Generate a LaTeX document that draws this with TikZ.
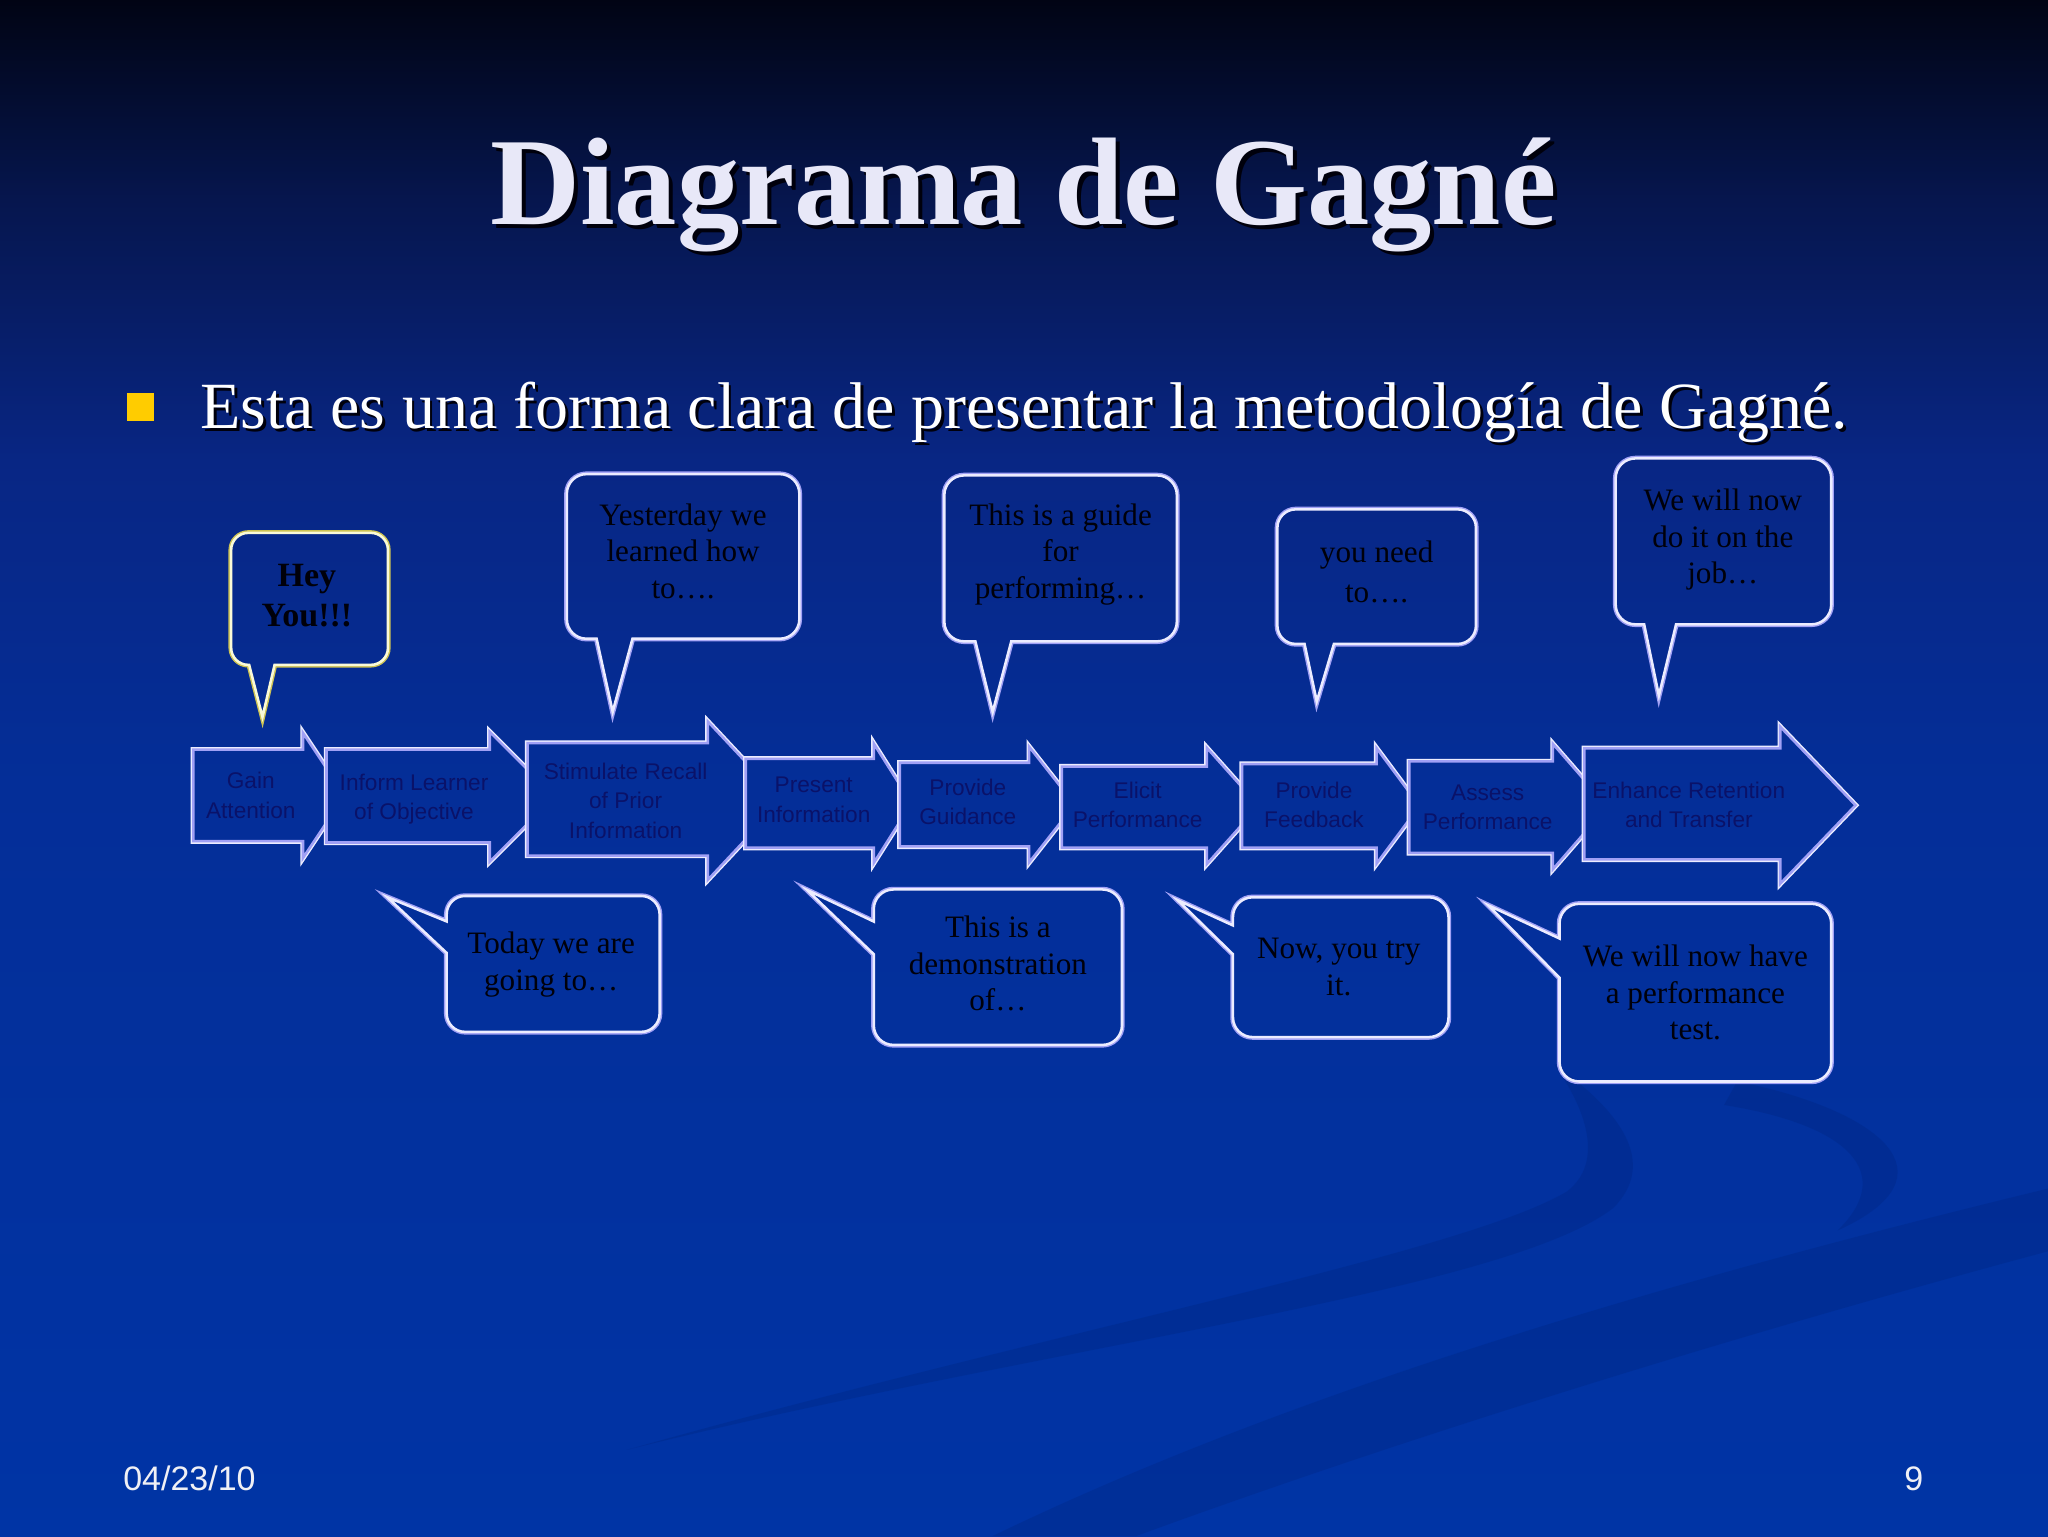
\documentclass[tikz,border=0pt]{standalone}
\usepackage{fontspec}
\setmainfont{Liberation Serif}
\newfontfamily\sansf{Liberation Sans}
\definecolor{bgA}{RGB}{1,4,20}
\definecolor{bgB}{RGB}{6,22,78}
\definecolor{bgC}{RGB}{8,38,132}
\definecolor{bgD}{RGB}{4,46,152}
\definecolor{bgE}{RGB}{0,52,165}
\definecolor{swc}{RGB}{0,30,110}
\definecolor{titlec}{RGB}{232,232,248}
\definecolor{shadc}{RGB}{0,0,12}
\definecolor{bullc}{RGB}{255,204,0}
\definecolor{lav}{RGB}{160,160,245}
\definecolor{wht}{RGB}{236,236,255}
\definecolor{yel}{RGB}{205,195,85}
\definecolor{heyin}{RGB}{250,250,215}
\definecolor{arrtext}{RGB}{10,18,105}
\definecolor{baltext}{RGB}{0,0,10}
\definecolor{footc}{RGB}{240,240,245}
\pgfdeclareverticalshading{bgshade}{100bp}{color(0bp)=(bgE); color(25bp)=(bgE); color(49.5bp)=(bgD); color(60bp)=(bgC); color(68.5bp)=(bgB); color(75bp)=(bgA); color(100bp)=(bgA)}

\newcommand\tl[1]{\begin{tabular}[t]{@{}c@{}}#1\end{tabular}}
% outer colour, inner colour, path
\newcommand\dbl[3]{%
  \draw[#1,line width=1.0pt] #3;
  \begin{scope}\clip #3; \draw[#2,line width=1.8pt] #3;\end{scope}}
% balloon, tail down: x1 y1 x2 y2 r ta tb tipx tipy
\newcommand\bup[9]{(#1+#5,#2) -- (#3-#5,#2) .. controls (#3-0.45*#5,#2) and (#3,#2+0.45*#5) .. (#3,#2+#5) -- (#3,#4-#5) .. controls (#3,#4-0.45*#5) and (#3-0.45*#5,#4) .. (#3-#5,#4) -- (#7,#4) -- (#8,#9) -- (#6,#4) -- (#1+#5,#4) .. controls (#1+0.45*#5,#4) and (#1,#4-0.45*#5) .. (#1,#4-#5) -- (#1,#2+#5) .. controls (#1,#2+0.45*#5) and (#1+0.45*#5,#2) .. (#1+#5,#2) -- cycle}
% balloon, tail left: x1 y1 x2 y2 r ya yb tipx tipy
\newcommand\bleft[9]{(#1+#5,#2) -- (#3-#5,#2) .. controls (#3-0.45*#5,#2) and (#3,#2+0.45*#5) .. (#3,#2+#5) -- (#3,#4-#5) .. controls (#3,#4-0.45*#5) and (#3-0.45*#5,#4) .. (#3-#5,#4) -- (#1+#5,#4) .. controls (#1+0.45*#5,#4) and (#1,#4-0.45*#5) .. (#1,#4-#5) -- (#1,#7) -- (#8,#9) -- (#1,#6) -- (#1,#2+#5) .. controls (#1,#2+0.45*#5) and (#1+0.45*#5,#2) .. (#1+#5,#2) -- cycle}
% block arrow: L T Bo B HT HB tip
\newcommand\arr[7]{(#1,#2) -- (#4,#2) -- (#4,#5) -- (#7,{(#5+#6)/2}) -- (#4,#6) -- (#4,#3) -- (#1,#3) -- cycle}

\tikzset{
  titletext/.style={inner sep=0pt, anchor=base, font=\fontsize{44}{50}\selectfont\bfseries},
  bullettext/.style={inner sep=0pt, anchor=base west, font=\fontsize{23.3}{28}\selectfont},
  baltxt/.style={inner sep=0pt, anchor=base, text=baltext, font=\fontsize{11}{12.9}\selectfont},
  heytxt/.style={inner sep=0pt, anchor=base, text=baltext, font=\fontsize{12}{14.2}\selectfont\bfseries},
  arrtxt/.style={inner sep=0pt, anchor=base, text=arrtext, font=\sansf\fontsize{8}{10.3}\selectfont},
  foottxt/.style={inner sep=0pt, text=footc, font=\sansf\fontsize{12}{14}\selectfont},
  swoosh/.style={fill=swc, fill opacity=0.22, draw=none}
}

\begin{document}
\begin{tikzpicture}[x=0.0161990cm,y=-0.0161990cm]
\useasboundingbox (0,0) rectangle (1568,1176);
\shade[shading=bgshade] (0,0) rectangle (1568,1176);

% background swooshes
\fill[swoosh] (480,1110) .. controls (800,1030) and (1150,990) .. (1235,925) .. controls (1270,890) and (1240,850) .. (1190,815) .. controls (1215,850) and (1228,890) .. (1200,912) .. controls (1120,960) and (800,1020) .. (480,1110) -- cycle;
\fill[swoosh] (1330,828) .. controls (1440,850) and (1500,900) .. (1407,942) .. controls (1450,900) and (1420,862) .. (1320,846) -- cycle;
\fill[swoosh] (760,1176) .. controls (1000,1060) and (1300,975) .. (1568,910) -- (1568,958) .. controls (1300,1030) and (1050,1110) .. (870,1176) -- cycle;

% title
\node[titletext, text=shadc] (titlesh) at (786.5,175) {Diagrama de Gagné};
\node[titletext, text=titlec] (title) at (783.5,172) {Diagrama de Gagné};

% bullet
\fill[bullc] (97,301) rectangle (118,322);
\node[bullettext, text=shadc] (bulletsh) at (155,330) {Esta es una forma clara de presentar la metodología de Gagné.};
\node[bullettext, text=white] (bullet) at (153,328) {Esta es una forma clara de presentar la metodología de Gagné.};

% balloons
\dbl{yel}{heyin}{\bup{176}{407}{298}{510}{14}{190}{211}{201}{553}}
\dbl{lav}{wht}{\bup{433}{362}{613}{490}{16}{456}{485}{469}{549}}
\dbl{lav}{wht}{\bup{722}{363}{902}{492}{16}{746}{775}{760}{549}}
\dbl{lav}{wht}{\bup{977}{389}{1131}{494}{15}{998}{1022}{1008}{541}}
\dbl{lav}{wht}{\bup{1236}{350}{1403}{479}{16}{1258}{1284}{1270}{537}}
\dbl{lav}{wht}{\bleft{341}{685}{506}{791}{15}{704}{730}{292}{684}}
\dbl{lav}{wht}{\bleft{668}{680}{860}{801}{16}{704}{731}{613}{678}}
\dbl{lav}{wht}{\bleft{943}{686}{1110}{795}{16}{707}{731}{897}{686}}
\dbl{lav}{wht}{\bleft{1193}{691}{1403}{829}{16}{717}{749}{1135}{690}}

% arrows
\begin{scope}\clip (0,0) rectangle (249,1176); \dbl{wht}{lav}{\arr{147}{573}{645}{231}{558}{660}{265}}\end{scope}
\begin{scope}\clip (0,0) rectangle (403,1176); \dbl{wht}{lav}{\arr{249}{573}{646}{374}{558}{662}{426}}\end{scope}
\begin{scope}\clip (0,0) rectangle (570,1176); \dbl{wht}{lav}{\arr{403}{568}{656}{541}{550}{676}{600}}\end{scope}
\begin{scope}\clip (0,0) rectangle (688,1176); \dbl{wht}{lav}{\arr{570}{580}{650}{668}{566}{664}{699}}\end{scope}
\begin{scope}\clip (0,0) rectangle (812,1176); \dbl{wht}{lav}{\arr{688}{583}{649}{787}{569}{663}{824}}\end{scope}
\begin{scope}\clip (0,0) rectangle (950,1176); \dbl{wht}{lav}{\arr{812}{586}{650}{923}{570}{664}{965}}\end{scope}
\begin{scope}\clip (0,0) rectangle (1078,1176); \dbl{wht}{lav}{\arr{950}{584}{650}{1053}{570}{664}{1088}}\end{scope}
\begin{scope}\clip (0,0) rectangle (1212,1176); \dbl{wht}{lav}{\arr{1078}{582}{654}{1188}{567}{668}{1232}}\end{scope}
\dbl{wht}{lav}{\arr{1212}{572}{659}{1362}{554}{679}{1422}}

% balloon texts
\node[heytxt] (hey) at (235,449) {\tl{Hey\\You!!!}};
\node[baltxt] (yest) at (523,402) {\tl{Yesterday we\\learned how\\to….}};
\node[baltxt] (guide) at (812,402) {\tl{This is a guide\\for\\performing…}};
\node[baltxt, font=\fontsize{11}{13.8}\selectfont] (need) at (1054,431) {\tl{you need\\to….}};
\node[baltxt] (job) at (1319,391) {\tl{We will now\\do it on the\\job…}};
\node[baltxt] (today) at (422,730) {\tl{Today we are\\going to…}};
\node[baltxt] (demo) at (764,718) {\tl{This is a\\demonstration\\of…}};
\node[baltxt] (try) at (1025,734) {\tl{Now, you try\\it.}};
\node[baltxt] (test) at (1298,740) {\tl{We will now have\\a performance\\test.}};

% arrow texts
\node[arrtxt] (a1t) at (192,604) {\tl{Gain\\Attention}};
\node[arrtxt] (a2t) at (317,605) {\tl{Inform Learner\\of Objective}};
\node[arrtxt] (a3t) at (479,597) {\tl{Stimulate Recall\\of Prior\\Information}};
\node[arrtxt] (a4t) at (623,607) {\tl{Present\\Information}};
\node[arrtxt] (a5t) at (741,609) {\tl{Provide\\Guidance}};
\node[arrtxt] (a6t) at (871,611) {\tl{Elicit\\Performance}};
\node[arrtxt] (a7t) at (1006,611) {\tl{Provide\\Feedback}};
\node[arrtxt] (a8t) at (1139,613) {\tl{Assess\\Performance}};
\node[arrtxt] (a9t) at (1293,611) {\tl{Enhance Retention\\and Transfer}};

% footer
\node[foottxt, anchor=base west] (date) at (94,1141) {04/23/10};
\node[foottxt, anchor=base east] (pnum) at (1473,1141) {9};
\end{tikzpicture}
\end{document}
